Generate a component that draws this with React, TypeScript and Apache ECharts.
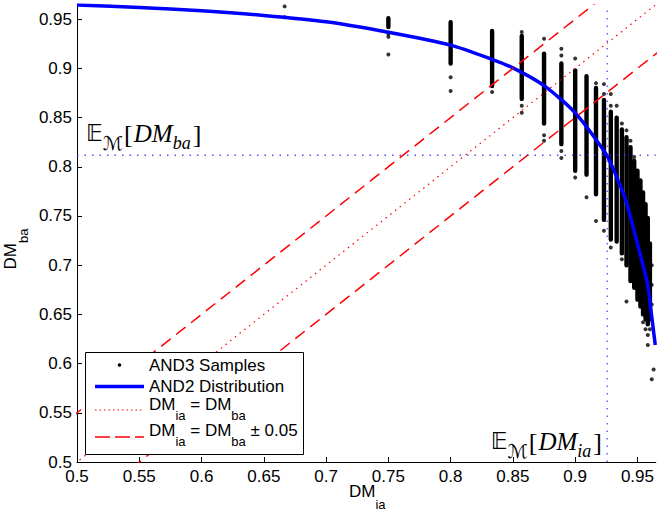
import React, { useEffect, useRef } from "react";
import * as echarts from "echarts";

// Axis extents (the picture is cropped at the right and top edges)
const xMin = 0.5;
const xMax = 0.9647;
const yMin = 0.5;
const yMax = 0.9644;
const tickInterval = 0.05;

// AND2 distribution curve
const curveX = [0.5, 0.55, 0.6, 0.65, 0.7, 0.75, 0.8, 0.8331, 0.85, 0.875, 0.9, 0.925, 0.9335, 0.9405, 0.9506, 0.9579, 0.9603, 0.9623, 0.9643];
const curveY = [0.9644, 0.9619, 0.9585, 0.9538, 0.9473, 0.9367, 0.9236, 0.9092, 0.9005, 0.8825, 0.8548, 0.8125, 0.789, 0.7665, 0.7188, 0.6819, 0.6596, 0.6392, 0.6189];

// AND3 samples: dense columns of points (x, top of run, bottom of run)
const colX = [0.75, 0.8, 0.8333, 0.8571, 0.875, 0.8889, 0.9, 0.9091, 0.9167, 0.9231, 0.9286, 0.9333, 0.9375, 0.9412, 0.9444, 0.9474, 0.95, 0.9524, 0.9545, 0.9565, 0.9583, 0.96];
const colTop = [0.951, 0.947, 0.938, 0.933, 0.915, 0.905, 0.898, 0.892, 0.88, 0.868, 0.856, 0.85, 0.838, 0.83, 0.82, 0.806, 0.796, 0.786, 0.774, 0.762, 0.748, 0.722];
const colBottom = [0.942, 0.905, 0.882, 0.869, 0.844, 0.823, 0.796, 0.792, 0.772, 0.746, 0.726, 0.724, 0.712, 0.7, 0.684, 0.677, 0.665, 0.658, 0.65, 0.645, 0.64, 0.645];

// AND3 samples: isolated points
const outlierX = [0.6667, 0.6667, 0.75, 0.75, 0.75, 0.8, 0.8, 0.8333, 0.8571, 0.8571, 0.8571, 0.875, 0.875, 0.875, 0.8889, 0.8889, 0.8889, 0.8889, 0.9, 0.9, 0.9091, 0.9167, 0.9167, 0.9231, 0.9231, 0.9231, 0.9286, 0.9286, 0.9286, 0.9333, 0.9375, 0.9375, 0.9412, 0.9412, 0.9444, 0.9474, 0.9545, 0.9565, 0.9583, 0.9583, 0.96, 0.9615, 0.9615, 0.9615, 0.963, 0.9615];
const outlierY = [0.963, 0.952, 0.935, 0.932, 0.914, 0.891, 0.877, 0.876, 0.937, 0.862, 0.855, 0.93, 0.832, 0.8265, 0.92, 0.913, 0.816, 0.809, 0.91, 0.789, 0.769, 0.885, 0.745, 0.884, 0.874, 0.735, 0.874, 0.862, 0.718, 0.862, 0.844, 0.706, 0.837, 0.663, 0.8265, 0.81, 0.642, 0.635, 0.629, 0.619, 0.635, 0.7, 0.68, 0.66, 0.594, 0.584];

// Expected values
const expectedDMia = 0.9257;
const expectedDMba = 0.8117;

// Reference lines y = x + offset
const identityExtent = [0.4, 1.05];
const bandOffset = 0.05;

const FONT = "Liberation Sans, Arial, sans-serif";
const SERIF = "Liberation Serif, DejaVu Serif, serif";

export default function App() {
  const ref = useRef<HTMLDivElement>(null);

  useEffect(() => {
    const chart = echarts.init(ref.current!, null, { renderer: "svg" });

    const lineThrough = (off: number) => identityExtent.map((x) => [x, x + off]);

    const subRich = (drop: number) => ({
      m: { fontFamily: FONT, fontSize: 17, lineHeight: 20, verticalAlign: "top", color: "#000" },
      s: { fontFamily: FONT, fontSize: 13, lineHeight: 13, verticalAlign: "top", padding: [drop, 0, 0, 0], color: "#000" },
    });

    const annRich = {
      e: { fontFamily: "DejaVu Sans, DejaVu Serif, serif", fontSize: 23, lineHeight: 28, verticalAlign: "top", color: "#000" },
      c: { fontFamily: "DejaVu Sans, serif", fontSize: 19, lineHeight: 18, verticalAlign: "top", padding: [12, 1, 0, 0], color: "#000" },
      b: { fontFamily: SERIF, fontSize: 26, lineHeight: 28, verticalAlign: "top", color: "#000", padding: [0, 1, 0, 0] },
      i: { fontFamily: SERIF, fontStyle: "italic", fontSize: 25, lineHeight: 28, verticalAlign: "top", color: "#000", letterSpacing: 2 },
      j: { fontFamily: SERIF, fontStyle: "italic", fontSize: 18, lineHeight: 16, verticalAlign: "top", padding: [13, 2, 0, 0], color: "#000" },
    };

    const option: any = {
      animation: false,
      backgroundColor: "#fff",
      grid: { left: 77, right: 0, top: 5, bottom: 48, containLabel: false },
      xAxis: {
        type: "value",
        min: xMin,
        max: xMax,
        interval: tickInterval,
        axisLine: { lineStyle: { color: "#000", width: 1 } },
        axisTick: { inside: true, length: 5, lineStyle: { color: "#000" } },
        axisLabel: { fontSize: 17, fontFamily: FONT, color: "#000", margin: 6, showMaxLabel: false },
        splitLine: { show: false },
      },
      yAxis: {
        type: "value",
        min: yMin,
        max: yMax,
        interval: tickInterval,
        axisLine: { show: true, lineStyle: { color: "#000", width: 1 } },
        axisTick: { show: true, inside: true, length: 5, lineStyle: { color: "#000" } },
        axisLabel: { fontSize: 17, fontFamily: FONT, color: "#000", margin: 5, showMaxLabel: false },
        splitLine: { show: false },
      },
      series: [
        {
          type: "custom",
          name: "AND3 Samples",
          clip: true,
          z: 2,
          data: colX.map((x, i) => [x, colTop[i], colBottom[i]]),
          encode: { x: 0, y: [1, 2] },
          renderItem: (_params: any, api: any) => {
            const top = api.coord([api.value(0), api.value(1)]);
            const bot = api.coord([api.value(0), api.value(2)]);
            const r = 2.2;
            return {
              type: "rect",
              shape: { x: top[0] - r, y: top[1] - r, width: 2 * r, height: bot[1] - top[1] + 2 * r, r },
              style: { fill: "#000" },
            };
          },
        },
        {
          type: "scatter",
          name: "AND3 Samples",
          z: 2,
          symbol: "circle",
          symbolSize: 4,
          itemStyle: { color: "#000" },
          data: outlierX.map((x, i) => [x, outlierY[i]]),
        },
        {
          type: "line",
          name: "AND2 Distribution",
          z: 3,
          smooth: 0.25,
          showSymbol: false,
          symbol: "none",
          lineStyle: { color: "#0000ff", width: 3.5 },
          data: curveX.map((x, i) => [x, curveY[i]]),
        },
        {
          type: "line",
          name: "DMia = DMba",
          z: 4,
          showSymbol: false,
          symbol: "none",
          clip: true,
          lineStyle: { color: "#ff0000", width: 1.2, type: [1.5, 4.5] },
          data: lineThrough(0),
        },
        {
          type: "line",
          name: "DMia = DMba ± 0.05",
          z: 4,
          showSymbol: false,
          symbol: "none",
          clip: true,
          lineStyle: { color: "#ff0000", width: 1.5, type: [12, 7] },
          data: lineThrough(bandOffset),
        },
        {
          type: "line",
          name: "DMia = DMba ± 0.05",
          z: 4,
          showSymbol: false,
          symbol: "none",
          clip: true,
          lineStyle: { color: "#ff0000", width: 1.5, type: [12, 7] },
          data: lineThrough(-bandOffset),
        },
        {
          type: "line",
          name: "E[DMba]",
          z: 5,
          showSymbol: false,
          symbol: "none",
          lineStyle: { color: "#3030ff", width: 1.3, type: [1.5, 6], opacity: 0.85 },
          data: [[xMin, expectedDMba], [xMax, expectedDMba]],
        },
        {
          type: "line",
          name: "E[DMia]",
          z: 5,
          showSymbol: false,
          symbol: "none",
          lineStyle: { color: "#3030ff", width: 1.3, type: [1.5, 6], opacity: 0.85 },
          data: [[expectedDMia, yMin], [expectedDMia, yMax]],
        },
      ],
      graphic: [
        // annotations
        {
          type: "text",
          x: 86,
          y: 121,
          z: 10,
          style: { text: "{e|𝔼}{c|ℳ}{b|[}{i|DM}{j|ba}{b|]}", rich: annRich, verticalAlign: "top", align: "left" },
        },
        {
          type: "text",
          x: 603,
          y: 429,
          z: 10,
          style: { text: "{e|𝔼}{c|ℳ}{b|[}{i|DM}{j|ia}{b|]}", rich: annRich, verticalAlign: "top", align: "right" },
        },
        // axis names
        {
          type: "text",
          x: 349,
          y: 482.5,
          z: 10,
          style: { text: "{m|DM}{s|ia}", rich: subRich(15), verticalAlign: "top", align: "left" },
        },
        {
          type: "text",
          x: 2,
          y: 249,
          rotation: Math.PI / 2,
          z: 10,
          style: { text: "{m|DM}{s|ba}", rich: subRich(15), verticalAlign: "top", align: "center" },
        },
        // legend box
        {
          type: "rect",
          z: 20,
          shape: { x: 85.5, y: 352.5, width: 218, height: 102 },
          style: { fill: "#fff", stroke: "#000", lineWidth: 1 },
        },
        { type: "circle", z: 21, shape: { cx: 119.5, cy: 365, r: 1.8 }, style: { fill: "#000" } },
        {
          type: "text",
          z: 21,
          x: 149,
          y: 365,
          style: { text: "AND3 Samples", fontFamily: FONT, fontSize: 17, fill: "#000", verticalAlign: "middle", align: "left" },
        },
        {
          type: "line",
          z: 21,
          shape: { x1: 95, y1: 386.5, x2: 144, y2: 386.5 },
          style: { stroke: "#0000ff", lineWidth: 3.5 },
        },
        {
          type: "text",
          z: 21,
          x: 149,
          y: 386,
          style: { text: "AND2 Distribution", fontFamily: FONT, fontSize: 17, fill: "#000", verticalAlign: "middle", align: "left" },
        },
        {
          type: "line",
          z: 21,
          shape: { x1: 95, y1: 410, x2: 144, y2: 410 },
          style: { stroke: "#ff0000", lineWidth: 1.2, lineDash: [1.5, 3] },
        },
        {
          type: "text",
          z: 21,
          x: 149,
          y: 396,
          style: { text: "{m|DM}{s|ia}{m| = DM}{s|ba}", rich: subRich(13), verticalAlign: "top", align: "left" },
        },
        {
          type: "line",
          z: 21,
          shape: { x1: 95, y1: 437, x2: 144, y2: 437 },
          style: { stroke: "#ff0000", lineWidth: 1.5, lineDash: [15, 5] },
        },
        {
          type: "text",
          z: 21,
          x: 149,
          y: 422,
          style: { text: "{m|DM}{s|ia}{m| = DM}{s|ba}{m| ± 0.05}", rich: subRich(13), verticalAlign: "top", align: "left" },
        },
      ],
    };

    chart.setOption(option);
    return () => chart.dispose();
  }, []);

  return (
    <div
      ref={ref}
      style={{ position: "absolute", left: 0, top: 0, width: 657, height: 510, background: "#fff" }}
    />
  );
}
